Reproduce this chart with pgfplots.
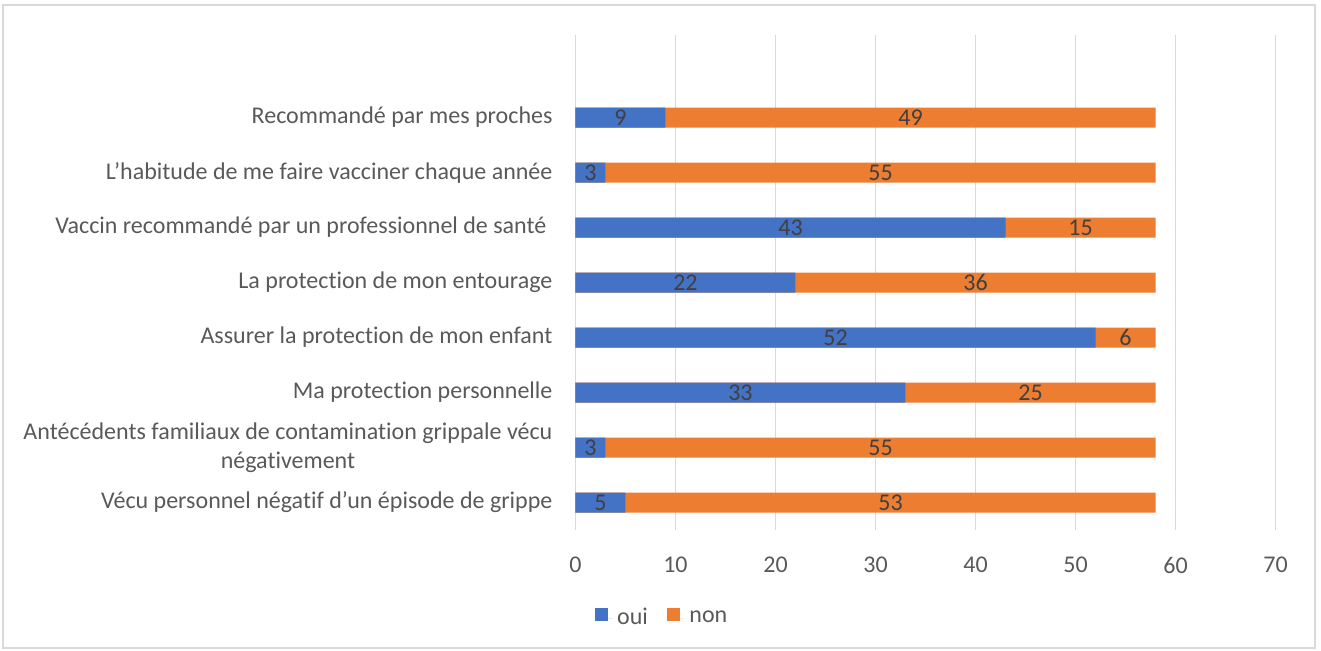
\documentclass[border=0pt]{standalone}
\usepackage{fontspec}
\setmainfont{Carlito}[Ligatures=NoCommon]
\usepackage{pgfplots}
\usepackage{pgfplotstable}
\pgfplotsset{compat=1.18}
\definecolor{coui}{HTML}{4472C4}
\definecolor{cnon}{HTML}{ED7D31}
\definecolor{txtgray}{HTML}{595959}
\definecolor{lblgray}{HTML}{404040}
\definecolor{gridgray}{HTML}{D9D9D9}

% idx 0 = bottom category
\pgfplotstableread{
idx oui non
0 5 53
1 3 55
2 33 25
3 52 6
4 22 36
5 43 15
6 3 55
7 9 49
}\data

\begin{document}
\begin{tikzpicture}[font=\fontsize{12}{14}\selectfont]
\useasboundingbox (-287.75pt,-60pt) rectangle (372.75pt,265pt);
\draw[gridgray, line width=0.75pt] (-286.25pt,-59pt) rectangle (369.75pt,262.5pt);
\begin{axis}[
    at={(0,0)}, anchor=south west,
    scale only axis,
    width=350pt, height=247.5pt,
    xmin=0, xmax=70, ymin=-0.5, ymax=8.5,
    xtick={0,10,...,70},
    ytick={0,...,7},
    yticklabels={
        Vécu personnel négatif d’un épisode de grippe,
        {Antécédents familiaux de contamination grippale vécu\\négativement},
        Ma protection personnelle,
        Assurer la protection de mon enfant,
        La protection de mon entourage,
        Vaccin recommandé par un professionnel de santé\kern0.25em,
        L’habitude de me faire vacciner chaque année,
        Recommandé par mes proches},
    axis line style={draw=none},
    major tick length=0pt,
    xmajorgrids,
    grid style={draw=gridgray, line width=0.75pt},
    tick label style={text=txtgray, font=\fontsize{12}{14.5}\selectfont},
    yticklabel style={align=center, xshift=-8pt},
    xticklabel style={yshift=-10pt},
    /pgf/number format/assume math mode=true,
    legend columns=2,
    legend style={at={(0.125,-0.178)}, anchor=center, draw=none,
        font=\fontsize{12}{14}\selectfont, text=txtgray,
        /tikz/every even column/.append style={column sep=7.5pt}},
    legend image code/.code={\fill[#1, draw=none] (0pt,-1.5pt) rectangle (6.75pt,5.25pt);
        \path[draw=none] (0pt,0pt) -- (9.25pt,0pt);},
    every node near coord/.append style={anchor=center, text=lblgray,
        font=\fontsize{12}{14}\selectfont},
]
% total bar (non on top of oui)
\addplot[xbar, bar width=10pt, bar shift=0pt, fill=cnon, draw=none, forget plot]
    table[y=idx, x expr=\thisrow{oui}+\thisrow{non}] {\data};
\addplot[xbar, bar width=10pt, bar shift=0pt, fill=coui, draw=none]
    table[y=idx, x=oui] {\data};
\addlegendentry{oui}
\addlegendimage{fill=cnon, draw=none}
\addlegendentry{non}
% segment labels
\addplot[draw=none, mark=none, forget plot, nodes near coords={\pgfplotspointmeta},
    point meta=explicit symbolic]
    table[y=idx, x expr=\thisrow{oui}/2, meta=oui] {\data};
\addplot[draw=none, mark=none, forget plot, nodes near coords={\pgfplotspointmeta},
    point meta=explicit symbolic]
    table[y=idx, x expr=\thisrow{oui}+\thisrow{non}/2, meta=non] {\data};
\end{axis}
\end{tikzpicture}
\end{document}
